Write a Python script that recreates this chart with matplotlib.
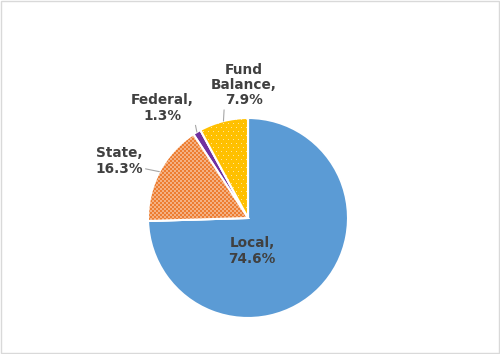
import numpy as np
import matplotlib.pyplot as plt
from matplotlib.patches import Rectangle, Wedge

labels = ["Local", "State", "Federal", "Fund\nBalance"]
shares = [74.6, 16.3, 1.3, 7.9]
colors = ["#5B9BD5", "#ED7D31", "#7030A0", "#FFC000"]
textures = [None, "checker", None, "dots"]

fig = plt.figure(figsize=(5.0, 3.54), dpi=100)
ax = fig.add_axes([0, 0, 1, 1])

cx, cy, r = 248, 136, 100
wedges, _ = ax.pie(shares, colors=colors, startangle=90, counterclock=False,
                   center=(cx, cy), radius=r, frame=True,
                   wedgeprops=dict(edgecolor="white", linewidth=1.5))


def texture(kind, base, n=2 * r + 4):
    rgb = np.array(plt.matplotlib.colors.to_rgb(base))
    img = np.tile(rgb, (n, n, 1))
    yy, xx = np.mgrid[0:n, 0:n]
    if kind == "checker":
        light = rgb * 0.6 + 0.4
        mask = ((xx // 2) + (yy // 2)) % 2 == 0
        img[mask] = light
    else:
        light = rgb * 0.4 + 0.6
        mask = ((xx % 5 == 0) & (yy % 8 == 0)) | ((xx % 5 == 2) & (yy % 8 == 4))
        img[mask] = light
    return img


for w, kind, col in zip(wedges, textures, colors):
    if kind is None:
        continue
    im = ax.imshow(texture(kind, col), extent=(cx - r - 2, cx + r + 2, cy - r - 2, cy + r + 2),
                   interpolation="nearest", zorder=w.get_zorder() + 0.1, origin="lower")
    im.set_clip_path(w)
    ax.add_patch(Wedge((cx, cy), r, w.theta1, w.theta2, fill=False,
                       edgecolor="white", linewidth=1.5, zorder=w.get_zorder() + 0.2))

ax.set_xlim(0, 500)
ax.set_ylim(0, 354)
ax.set_aspect("auto")
ax.axis("off")

# label positions (figure px, y up) and where the leader attaches to the text
label_pos = [(252, 103), (119, 193), (162, 246), (244, 269)]
relpos = [None, (1.0, 0.25), (1.0, 0.25), (0.2, 0.0)]
txt_color = "#404040"

for w, lab, val, pos, rp in zip(wedges, labels, shares, label_pos, relpos):
    text = f"{lab},\n{val}%"
    if rp is None:
        ax.text(pos[0], pos[1], text, ha="center", va="center", fontsize=9.8,
                fontweight="bold", color=txt_color, linespacing=1.1, zorder=5)
        continue
    mid = np.deg2rad((w.theta1 + w.theta2) / 2)
    edge = (cx + r * np.cos(mid), cy + r * np.sin(mid))
    ax.annotate(text, xy=edge, xytext=pos, ha="center", va="center",
                fontsize=9.8, fontweight="bold", color=txt_color, linespacing=1.1,
                arrowprops=dict(arrowstyle="-", color="#A6A6A6", lw=0.8,
                                shrinkA=0, shrinkB=0, relpos=rp))

fig.patches.append(Rectangle((0.002, 0.003), 0.995, 0.994, transform=fig.transFigure,
                             fill=False, edgecolor="#D9D9D9", linewidth=1))

fig.savefig("out.png", dpi=100)
